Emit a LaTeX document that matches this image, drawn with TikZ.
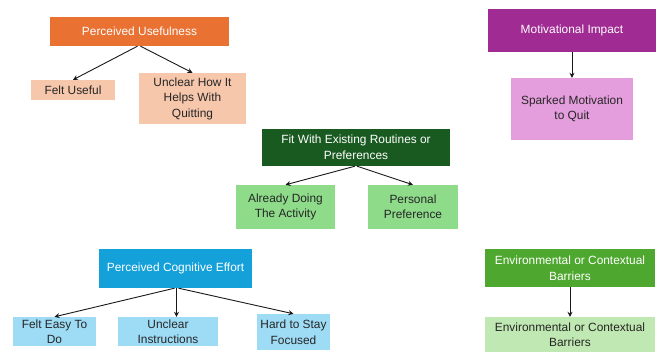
\documentclass[tikz,border=0pt]{standalone}
\usepackage{fontspec}
\setmainfont{Liberation Sans}
\usetikzlibrary{arrows.meta}
\definecolor{cOrange}{HTML}{E97132}
\definecolor{cPeach}{HTML}{F7C7AC}
\definecolor{cPurple}{HTML}{A02B93}
\definecolor{cPink}{HTML}{E59EDD}
\definecolor{cDarkGreen}{HTML}{195A21}
\definecolor{cMintGreen}{HTML}{8EDC8A}
\definecolor{cBlue}{HTML}{14A0D8}
\definecolor{cSkyBlue}{HTML}{9EDCF6}
\definecolor{cGreen}{HTML}{4EA72E}
\definecolor{cPaleGreen}{HTML}{C0E8B2}
\tikzset{
  box/.style={rectangle, inner sep=2pt, align=center,
    font=\fontsize{11.9}{15.5}\selectfont},
  head/.style={box, text=white},
  leaf/.style={box, text=black!85},
  link/.style={draw=black!90, line width=0.9pt, -{Stealth[length=5pt,width=5pt]}}
}
\begin{document}
\begin{tikzpicture}[x=1pt,y=-1pt]
\useasboundingbox[fill=white] (0,0) rectangle (657,352);

% Perceived usefulness
\node[head, fill=cOrange, minimum width=179pt, minimum height=29pt] (pu) at (139.5,31.5) {Perceived Usefulness};
\node[leaf, fill=cPeach, minimum width=84pt, minimum height=20pt] (fu) at (73,90) {Felt Useful};
\node[leaf, fill=cPeach, minimum width=107pt, minimum height=51pt] (uh) at (192.5,98.5) {Unclear How It\\Helps With\\Quitting};
\draw[link] (pu.south) ++(-2,0) coordinate (pu1) -- (fu.north);
\draw[link] (pu.south) ++(1,0) coordinate (pu2) -- (uh.north);

% Motivational impact
\node[head, fill=cPurple, minimum width=168pt, minimum height=43pt] (mi) at (572,30.5) {Motivational Impact};
\node[leaf, fill=cPink, minimum width=122pt, minimum height=62pt] (sm) at (572,109) {Sparked Motivation\\to Quit};
\draw[link] (mi) -- (sm);

% Fit with routines
\node[head, fill=cDarkGreen, minimum width=188pt, minimum height=37pt] (fw) at (356,147.5) {Fit With Existing Routines or\\Preferences};
\node[leaf, fill=cMintGreen, minimum width=99pt, minimum height=44pt] (ad) at (285.5,207) {Already Doing\\The Activity};
\node[leaf, fill=cMintGreen, minimum width=90pt, minimum height=44pt] (pp) at (413,207) {Personal\\Preference};
\draw[link] (fw.south) ++(-1,0) coordinate (fw1) -- (ad.north);
\draw[link] (fw.south) ++(1,0) coordinate (fw2) -- (pp.north);

% Perceived cognitive effort
\node[head, fill=cBlue, minimum width=153pt, minimum height=39pt] (ce) at (175.5,268.5) {Perceived Cognitive Effort};
\node[leaf, fill=cSkyBlue, minimum width=83pt, minimum height=29pt] (fe) at (54.5,331.5) {Felt Easy To\\Do};
\node[leaf, fill=cSkyBlue, minimum width=100pt, minimum height=29pt] (ui) at (168,331.5) {Unclear\\Instructions};
\node[leaf, fill=cSkyBlue, minimum width=73pt, minimum height=36pt] (hs) at (293.5,332) {Hard to Stay\\Focused};
\draw[link] (ce.south) ++(-1,0) coordinate (ce1) -- (fe.north);
\draw[link] (ce.south) ++(1,0) coordinate (ce2) -- (ui.north -| ce2);
\draw[link] (ce.south) ++(3,0) coordinate (ce3) -- (hs.north);

% Environmental barriers
\node[head, fill=cGreen, minimum width=170pt, minimum height=38pt] (eb) at (570,268) {Environmental or Contextual\\Barriers};
\node[leaf, fill=cPaleGreen, minimum width=170pt, minimum height=35pt] (ec) at (570,334.5) {Environmental or Contextual\\Barriers};
\draw[link] (eb) -- (ec);
\end{tikzpicture}
\end{document}
